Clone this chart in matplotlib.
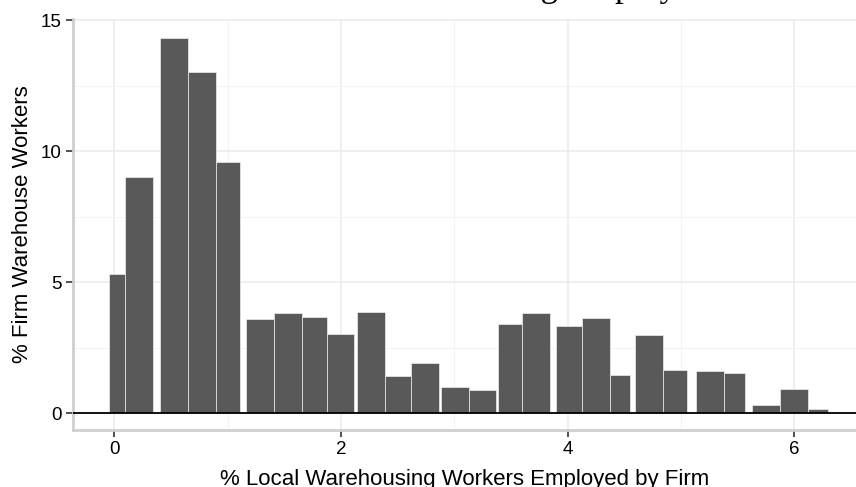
import numpy as np
import matplotlib
matplotlib.use("Agg")
import matplotlib.pyplot as plt

# bin edges (% of local warehousing workers employed by firm) and bar heights
bin_left = [-0.047, 0.094, 0.406, 0.653, 0.895, 1.162, 1.410, 1.657, 1.880,
            2.141, 2.388, 2.616, 2.884, 3.133, 3.384, 3.601, 3.896, 4.128,
            4.375, 4.598, 4.846, 5.134, 5.384, 5.628, 5.875, 6.120]
bin_right = [0.094, 0.341, 0.653, 0.895, 1.112, 1.410, 1.657, 1.880, 2.118,
             2.388, 2.616, 2.866, 3.133, 3.369, 3.601, 3.845, 4.128, 4.375,
             4.551, 4.846, 5.057, 5.384, 5.567, 5.875, 6.120, 6.302]
share_workers = [5.3, 9.0, 14.3, 13.0, 9.6, 3.6, 3.84, 3.68, 3.02,
                 3.88, 1.42, 1.91, 0.99, 0.9, 3.42, 3.84, 3.31, 3.63,
                 1.44, 2.98, 1.64, 1.61, 1.55, 0.31, 0.92, 0.18]

x_ticks = [0, 2, 4, 6]
y_ticks = [0, 5, 10, 15]

plt.rcParams['font.family'] = ['Liberation Sans', 'DejaVu Sans']

fig = plt.figure(figsize=(8.56, 4.87), dpi=100)
ax = fig.add_axes([0.0849, 0.117, 1 - 0.0849, 0.961 - 0.117])

left = np.array(bin_left)
width = np.array(bin_right) - left
ax.bar(left, share_workers, width=width, align='edge', color='#595959',
       edgecolor='#eeeeee', linewidth=0.5, zorder=2)
ax.axhline(0, color='black', linewidth=1.3, zorder=3)

ax.set_xlim(-0.367, 6.546)
ax.set_ylim(-0.64, 15.04)
ax.set_xticks(x_ticks)
ax.set_yticks(y_ticks)
ax.set_xticks([1, 3, 5], minor=True)
ax.set_yticks([2.5, 7.5, 12.5], minor=True)
ax.grid(which='major', color='#ebebeb', linewidth=1.1, zorder=0)
ax.grid(which='minor', color='#f4f4f4', linewidth=0.8, zorder=0)
ax.set_axisbelow(True)

for side in ['top', 'right']:
    ax.spines[side].set_visible(False)
for side in ['left', 'bottom']:
    ax.spines[side].set_color('#cfcfcf')
    ax.spines[side].set_linewidth(2)

ax.tick_params(which='major', length=5, width=1.2, color='#333333',
               labelsize=13.5, labelcolor='black', pad=3)
ax.tick_params(which='minor', length=0)

ax.set_xlabel('% Local Warehousing Workers Employed by Firm', fontsize=16)
ax.set_ylabel('% Firm Warehouse Workers', fontsize=16)
ax.xaxis.set_label_coords(0.5, -0.095)
ax.yaxis.set_label_coords(-0.0507, 0.5)

# title sits mostly above the top edge of the canvas
fig.text(0.872, 1.009, 'Firm Share of Local Warehousing Employment',
         ha='right', va='baseline', fontsize=25,
         family=['Liberation Serif', 'DejaVu Serif'])

fig.savefig('out.png', dpi=100)
